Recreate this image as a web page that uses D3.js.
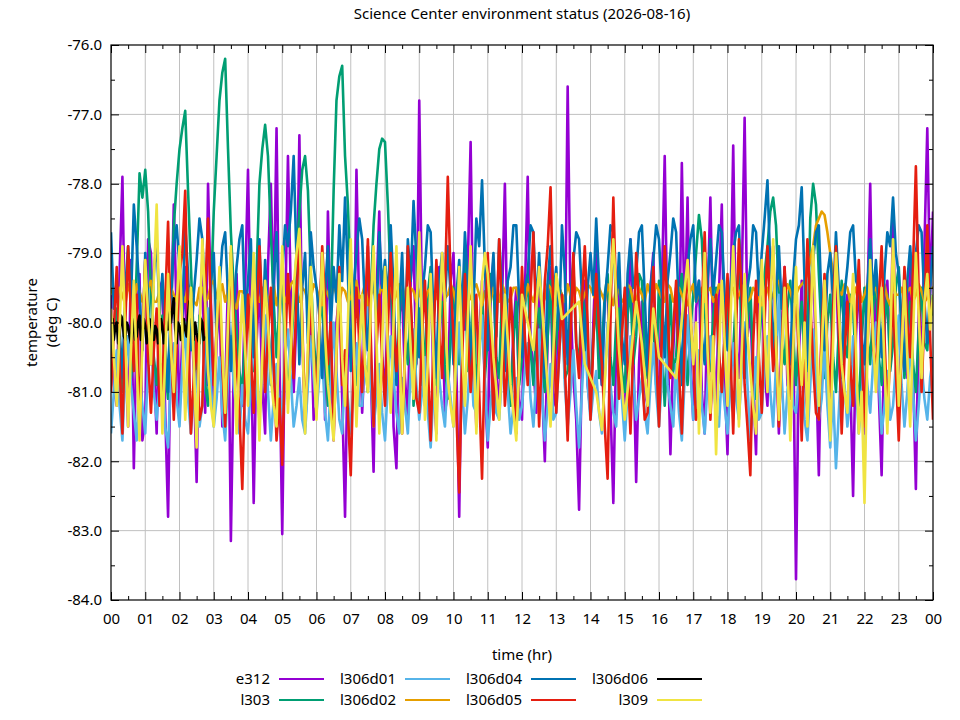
<!DOCTYPE html>
<html>
<head>
<meta charset="utf-8">
<script src="https://cdn.jsdelivr.net/npm/d3@7"></script>
<style>
body { margin: 0; background: #fff; }
text { font-family: "Noto Sans", sans-serif; font-size: 15px; fill: #000; }
</style>
</head>
<body>
<div class="chart"></div>
<script>
// === Data ===
// one reading every 5 minutes, 00:00 .. 24:00 (289 values, one row = 2 hours)
const e312 = [
  -79.6, -80.9, -81.2, -79.3, -77.9, -80.4, -81.5, -79.1, -82.1, -80.0, -79.3, -81.7, -81.4, -78.8, -79.0, -80.6, -81.6, -79.5, -79.4, -81.3, -82.8, -80.1, -78.3, -79.9,
  -81.3, -80.2, -79.2, -81.1, -79.8, -80.7, -82.3, -80.0, -79.1, -81.3, -78.0, -79.7, -81.4, -80.3, -79.6, -81.5, -81.0, -79.4, -83.15, -80.6, -79.3, -80.8, -81.2, -79.5,
  -77.8, -80.1, -82.6, -80.3, -79.4, -80.9, -81.6, -79.2, -78.0, -79.8, -77.2, -80.5, -83.05, -80.0, -77.6, -79.6, -81.0, -79.9, -77.3, -80.2, -81.5, -80.7, -79.8, -81.4,
  -81.2, -80.1, -79.0, -81.4, -78.4, -80.2, -81.7, -80.0, -79.6, -81.1, -82.8, -80.3, -79.5, -81.0, -77.8, -79.9, -81.3, -80.4, -78.9, -80.7, -82.15, -79.6, -78.4, -80.5,
  -81.0, -79.8, -79.2, -81.5, -82.1, -79.9, -79.6, -80.8, -81.4, -79.4, -78.9, -80.6, -76.8, -79.9, -81.2, -80.0, -79.3, -80.9, -81.6, -79.2, -79.7, -81.3, -81.0, -79.4,
  -79.0, -80.6, -82.8, -80.0, -80.1, -79.2, -77.4, -80.4, -81.5, -80.2, -79.4, -81.0, -81.8, -79.6, -79.1, -80.7, -81.3, -79.7, -78.0, -80.5, -81.2, -80.1, -79.5, -81.1,
  -81.4, -79.6, -77.9, -80.3, -80.6, -81.3, -79.4, -80.9, -82.0, -80.2, -79.2, -81.2, -81.0, -79.8, -79.6, -80.5, -76.6, -79.7, -80.8, -81.4, -82.7, -80.6, -79.4, -80.9,
  -81.3, -80.0, -78.9, -80.5, -80.9, -79.6, -79.5, -81.2, -82.6, -80.3, -79.3, -80.8, -81.5, -79.9, -78.8, -80.4, -82.3, -80.6, -79.7, -81.0, -81.2, -79.5, -79.0, -80.7,
  -81.0, -79.5, -77.6, -80.2, -81.9, -80.4, -79.5, -80.6, -77.7, -80.1, -78.2, -80.5, -81.4, -79.8, -79.4, -81.0, -81.6, -79.7, -78.2, -80.3, -81.3, -79.6, -78.3, -80.8,
  -81.9, -79.9, -77.45, -80.3, -80.8, -79.4, -77.05, -80.2, -79.8, -80.9, -81.9, -79.6, -79.3, -80.7, -81.2, -79.5, -78.9, -80.4, -81.6, -80.1, -79.2, -80.9, -81.0, -80.2,
  -83.7, -80.5, -79.4, -80.8, -81.3, -79.9, -79.0, -80.6, -82.2, -80.0, -79.8, -81.1, -81.5, -79.7, -79.1, -80.5, -81.2, -79.9, -79.6, -80.8, -82.5, -80.2, -79.3, -80.9,
  -81.6, -79.7, -78.0, -80.4, -79.5, -81.0, -82.2, -80.1, -79.4, -80.6, -78.5, -80.3, -81.4, -79.9, -79.6, -80.8, -79.0, -80.7, -82.4, -79.8, -80.5, -78.9, -77.2, -79.6,
  -78.4
];
const l303 = [
  -80.6, -80.1, -79.8, -80.5, -81.0, -80.4, -80.2, -80.8, -80.4, -79.2, -77.85, -78.2, -77.8, -78.4, -79.6, -80.5, -80.9, -80.2, -79.9, -80.7, -81.1, -79.9, -78.6, -78.0,
  -77.5, -77.2, -76.95, -78.1, -79.2, -80.3, -80.8, -79.9, -80.0, -80.9, -81.2, -79.6, -78.4, -77.6, -76.8, -76.4, -76.2, -77.5, -78.7, -79.5, -80.1, -80.7, -81.0, -80.2,
  -79.6, -80.3, -80.7, -79.3, -78.0, -77.5, -77.15, -77.6, -78.7, -79.7, -80.5, -79.8, -79.4, -80.3, -81.1, -80.4, -79.8, -79.0, -78.4, -77.8, -77.6, -78.1, -79.3, -80.2,
  -80.8, -80.1, -79.6, -80.5, -81.2, -79.8, -78.1, -76.8, -76.45, -76.3, -77.6, -78.3, -79.5, -80.4, -80.9, -80.2, -79.7, -80.6, -81.0, -79.6, -78.6, -78.0, -77.5, -77.35,
  -77.4, -78.3, -79.4, -80.2, -80.8, -80.0, -79.3, -80.1, -80.6, -79.7, -81.2, -80.5, -79.8, -80.9, -80.4, -79.6, -79.2, -80.3, -80.9, -80.0, -79.7, -80.6, -81.1, -80.2,
  -79.5, -80.1, -80.6, -79.8, -79.1, -80.7, -80.3, -79.5, -81.0, -80.4, -79.6, -80.8, -80.2, -79.3, -79.4, -80.5, -80.8, -79.6, -79.9, -80.7, -81.2, -80.3, -79.7, -80.9,
  -80.5, -79.8, -79.3, -80.4, -80.9, -80.1, -79.8, -80.6, -81.0, -80.2, -79.4, -80.7, -80.3, -79.5, -79.6, -80.8, -80.7, -79.6, -79.2, -80.3, -80.6, -79.5, -79.9, -80.6,
  -81.1, -80.2, -79.7, -80.8, -80.4, -79.6, -79.3, -80.5, -80.9, -80.0, -79.8, -80.7, -81.0, -79.9, -79.5, -80.6, -80.2, -79.3, -79.4, -80.4, -80.8, -79.7, -80.0, -80.9,
  -79.4, -80.3, -81.2, -80.4, -79.6, -80.7, -80.5, -79.7, -79.3, -80.2, -80.9, -80.1, -79.6, -79.0, -78.45, -78.8, -79.8, -80.4, -80.7, -79.9, -79.5, -80.5, -81.0, -80.2,
  -79.7, -80.5, -80.4, -79.6, -79.2, -80.1, -80.8, -80.0, -79.5, -80.6, -81.1, -80.3, -79.8, -79.3, -78.9, -78.4, -78.2, -78.6, -79.6, -80.3, -80.6, -79.8, -79.4, -80.2,
  -80.9, -80.2, -79.7, -80.6, -80.3, -78.5, -78.0, -78.3, -79.3, -80.2, -80.8, -80.0, -79.6, -80.5, -81.0, -80.1, -79.4, -80.3, -80.5, -79.6, -79.8, -80.7, -81.2, -80.3,
  -79.5, -80.2, -80.6, -79.8, -79.3, -80.5, -80.9, -80.0, -79.6, -80.7, -80.3, -79.5, -79.2, -80.1, -80.8, -80.2, -79.7, -80.6, -81.0, -80.1, -79.5, -80.3, -80.4, -79.6,
  -79.9
];
const l306d01 = [
  -81.6, -81.0, -80.4, -81.2, -81.7, -80.7, -80.2, -80.9, -81.3, -81.7, -80.8, -81.2, -81.6, -80.6, -80.1, -81.0, -81.4, -80.9, -80.6, -81.5, -81.8, -80.8, -80.3, -81.1,
  -81.5, -80.6, -80.0, -81.1, -81.6, -81.0, -80.7, -81.5, -81.2, -80.4, -79.8, -80.9, -81.5, -81.1, -80.5, -81.3, -81.7, -80.8, -80.2, -80.9, -81.3, -81.6, -80.9, -81.4,
  -81.6, -80.9, -80.3, -81.0, -81.4, -80.6, -79.9, -81.0, -81.7, -81.1, -80.6, -81.4, -81.2, -80.5, -80.1, -80.8, -81.5, -81.2, -80.8, -81.4, -81.6, -80.9, -80.2, -80.8,
  -81.3, -80.8, -80.5, -81.3, -81.7, -80.9, -80.0, -80.7, -81.4, -81.6, -80.7, -81.1, -81.6, -80.8, -80.3, -81.2, -81.2, -80.4, -79.7, -80.8, -81.5, -81.1, -80.6, -81.3,
  -81.7, -80.9, -80.2, -80.8, -81.3, -81.6, -80.8, -81.2, -81.6, -80.7, -80.1, -80.9, -81.4, -81.0, -80.5, -81.3, -81.8, -81.0, -80.3, -80.8, -81.2, -81.5, -80.7, -81.1,
  -81.5, -80.7, -80.0, -80.9, -81.6, -81.1, -80.4, -81.2, -81.3, -80.5, -79.9, -80.8, -81.7, -81.2, -80.6, -81.3, -81.4, -80.7, -80.2, -81.0, -81.6, -81.2, -80.8, -81.4,
  -81.2, -80.7, -80.3, -81.1, -81.5, -80.8, -80.1, -81.0, -81.7, -81.2, -80.6, -81.4, -81.3, -80.5, -79.8, -80.9, -81.5, -81.0, -80.4, -81.2, -81.8, -81.0, -80.2, -80.9,
  -81.4, -81.0, -80.7, -81.3, -81.6, -80.8, -80.0, -80.9, -81.3, -81.5, -80.5, -81.1, -81.7, -81.0, -80.2, -80.8, -81.4, -81.1, -80.8, -81.3, -81.6, -80.9, -80.3, -81.0,
  -81.5, -80.8, -80.1, -80.9, -81.2, -81.5, -80.6, -81.3, -81.7, -80.8, -79.9, -80.7, -81.4, -81.1, -80.4, -81.2, -81.6, -80.9, -80.2, -80.9, -81.3, -81.5, -80.7, -81.2,
  -81.6, -80.9, -80.3, -81.1, -81.4, -80.7, -80.0, -80.9, -81.7, -81.2, -80.5, -81.4, -81.3, -80.6, -80.2, -81.0, -81.5, -80.6, -79.6, -80.8, -81.6, -81.0, -80.4, -81.2,
  -81.3, -80.8, -80.6, -81.4, -81.7, -80.9, -80.1, -80.8, -81.4, -81.1, -80.3, -81.2, -81.8, -81.0, -82.1, -81.3, -80.5, -80.9, -81.5, -81.1, -80.2, -80.9, -81.6, -81.1,
  -80.4, -80.9, -81.3, -80.6, -80.0, -80.8, -81.6, -81.2, -80.7, -81.4, -81.2, -80.6, -79.9, -80.9, -81.5, -81.0, -80.3, -81.0, -81.7, -81.2, -80.6, -81.1, -81.4, -80.8,
  -80.5
];
const l306d02 = [
  -79.5, -79.65, -79.7, -79.5, -79.6, -79.75, -79.45, -79.6, -79.75, -79.45, -79.55, -79.7, -79.65, -79.5, -79.4, -79.7, -79.7, -79.55, -79.5, -79.65, -79.8, -79.5, -79.6, -79.7,
  -79.45, -79.6, -79.7, -79.45, -79.55, -79.7, -79.75, -79.5, -79.5, -79.7, -79.65, -79.45, -79.4, -79.65, -79.6, -79.45, -79.7, -79.55, -79.5, -79.7, -79.8, -79.55, -79.55, -79.7,
  -79.6, -79.75, -79.45, -79.6, -79.7, -79.5, -79.5, -79.65, -79.65, -79.45, -79.75, -79.55, -79.5, -79.7, -79.6, -79.45, -79.4, -79.6, -79.7, -79.5, -79.55, -79.7, -79.65, -79.45,
  -79.5, -79.65, -79.75, -79.5, -79.6, -79.7, -79.45, -79.6, -79.7, -79.5, -79.55, -79.7, -79.65, -79.5, -79.4, -79.65, -79.6, -79.45, -79.75, -79.6, -79.5, -79.7, -79.6, -79.45,
  -79.7, -79.55, -79.5, -79.7, -79.6, -79.45, -79.45, -79.65, -79.75, -79.5, -79.55, -79.7, -79.6, -79.45, -79.7, -79.55, -79.5, -79.7, -79.65, -79.5, -79.4, -79.65, -79.6, -79.45,
  -79.55, -79.75, -79.7, -79.5, -79.5, -79.7, -79.65, -79.5, -79.45, -79.6, -79.75, -79.55, -79.6, -79.7, -79.5, -79.65, -79.7, -79.45, -79.55, -79.7, -79.65, -79.5, -79.5, -79.7,
  -79.6, -79.7, -79.45, -79.6, -79.7, -79.5, -79.55, -79.75, -79.65, -79.45, -79.5, -79.7, -79.75, -79.5, -79.6, -79.7, -79.45, -79.6, -79.7, -79.5, -79.55, -79.7, -79.6, -79.45,
  -79.5, -79.6, -79.7, -79.5, -79.6, -79.7, -79.45, -79.6, -79.75, -79.5, -79.55, -79.7, -79.65, -79.45, -79.5, -79.7, -79.7, -79.5, -79.6, -79.7, -79.45, -79.6, -79.65, -79.45,
  -79.55, -79.65, -79.7, -79.45, -79.5, -79.7, -79.65, -79.5, -79.6, -79.7, -79.75, -79.55, -79.45, -79.7, -79.6, -79.5, -79.7, -79.55, -79.5, -79.7, -79.65, -79.45, -79.55, -79.65,
  -79.7, -79.55, -79.5, -79.7, -79.6, -79.5, -79.45, -79.7, -79.65, -79.5, -79.55, -79.7, -79.75, -79.55, -79.5, -79.7, -79.6, -79.45, -79.4, -79.6, -79.65, -79.45, -79.55, -79.7,
  -79.6, -79.5, -79.45, -79.4, -79.3, -79.1, -78.9, -78.6, -78.5, -78.4, -78.45, -78.7, -79.0, -79.3, -79.4, -79.55, -79.6, -79.45, -79.5, -79.7, -79.65, -79.5, -79.45, -79.7,
  -79.6, -79.45, -79.7, -79.55, -79.5, -79.7, -79.55, -79.45, -79.65, -79.75, -79.45, -79.6, -79.6, -79.5, -79.7, -79.55, -79.5, -79.7, -79.6, -79.45, -79.55, -79.7, -79.65, -79.5,
  -79.5
];
const l306d04 = [
  -78.7, -79.8, -79.4, -80.1, -80.8, -79.5, -78.9, -79.7, -78.3, -78.9, -79.6, -80.4, -79.0, -79.6, -80.6, -79.3, -78.8, -79.9, -79.3, -80.2, -81.0, -79.6, -78.9, -78.6,
  -79.2, -79.9, -78.6, -79.3, -80.4, -79.6, -79.1, -78.5, -78.8, -79.7, -80.9, -79.4, -79.0, -80.2, -79.5, -78.9, -78.7, -79.6, -80.7, -79.8, -79.2, -78.8, -78.6, -80.0,
  -79.4, -78.8, -80.5, -79.6, -78.8, -80.2, -79.1, -79.9, -80.9, -79.4, -78.7, -80.0, -79.3, -78.6, -78.9, -78.4, -77.6, -79.1, -80.6, -79.5, -79.0, -80.3, -78.7, -79.2,
  -79.5, -79.9, -80.8, -79.6, -78.9, -80.1, -79.2, -79.7, -78.6, -79.4, -78.2, -79.3, -80.7, -79.5, -79.0, -78.5, -78.8, -79.8, -80.4, -79.6, -79.3, -80.0, -78.7, -79.5,
  -79.1, -79.7, -78.6, -79.5, -80.9, -79.8, -79.0, -80.3, -78.8, -79.4, -78.25, -79.1, -80.5, -79.6, -79.2, -78.6, -78.7, -79.9, -80.8, -79.4, -79.0, -79.7, -78.9, -79.6,
  -80.6, -79.6, -79.1, -79.9, -78.7, -79.4, -80.9, -79.8, -78.5, -78.9, -77.95, -79.2, -80.4, -79.6, -79.0, -80.2, -78.8, -79.5, -80.7, -79.4, -79.2, -78.6, -78.6, -79.7,
  -80.5, -79.5, -79.3, -78.6, -78.7, -79.8, -79.0, -79.9, -80.8, -79.4, -78.9, -79.6, -79.2, -80.1, -78.6, -79.3, -80.6, -79.7, -79.1, -78.7, -78.8, -79.6, -80.4, -79.5,
  -79.0, -79.6, -78.5, -79.4, -80.9, -79.7, -79.2, -78.6, -78.7, -79.8, -79.0, -80.2, -80.6, -79.3, -78.8, -79.5, -79.3, -78.7, -78.6, -79.6, -80.7, -79.5, -79.1, -78.6,
  -78.8, -79.6, -80.5, -79.4, -79.0, -78.5, -78.7, -79.9, -80.9, -79.5, -79.2, -78.8, -78.6, -79.7, -79.4, -80.2, -80.6, -79.4, -78.8, -79.6, -79.1, -78.6, -78.7, -79.6,
  -80.4, -79.5, -79.0, -78.7, -78.6, -79.7, -80.8, -79.5, -79.2, -78.6, -78.7, -79.6, -79.0, -78.5, -77.95, -79.2, -80.5, -79.6, -78.9, -79.8, -79.3, -80.1, -80.6, -79.4,
  -78.8, -78.6, -78.05, -79.4, -80.7, -79.6, -79.1, -78.7, -78.6, -79.8, -80.4, -79.3, -79.0, -79.7, -78.7, -79.5, -80.8, -79.6, -79.2, -78.7, -78.6, -79.4, -79.5, -80.2,
  -80.6, -79.5, -78.8, -79.6, -79.1, -79.8, -80.5, -79.3, -78.7, -78.9, -78.2, -79.0, -79.3, -80.1, -80.7, -79.4, -78.9, -79.6, -79.0, -78.6, -78.7, -79.7, -80.3, -79.5,
  -78.9
];
const l306d05 = [
  -81.0, -80.1, -79.2, -80.6, -81.6, -80.0, -78.9, -79.9, -80.7, -79.6, -81.5, -80.2, -79.1, -80.5, -81.3, -80.4, -79.8, -81.2, -80.9, -79.7, -78.55, -80.2, -81.4, -80.3,
  -79.3, -79.0, -78.1, -80.0, -81.6, -80.8, -80.2, -81.4, -81.2, -79.6, -78.5, -79.8, -80.9, -80.1, -79.4, -80.6, -81.5, -80.3, -79.0, -79.9, -80.6, -81.3, -82.4, -80.8,
  -79.6, -80.5, -81.3, -80.0, -78.9, -79.8, -81.0, -80.2, -79.5, -80.6, -81.7, -81.1, -82.05, -80.4, -79.3, -80.1, -80.8, -79.6, -78.8, -80.0, -81.4, -80.5, -79.7, -80.4,
  -81.1, -80.0, -78.9, -79.7, -80.6, -80.0, -81.6, -80.5, -79.2, -80.9, -80.4, -81.3, -82.2, -80.6, -79.5, -80.3, -81.0, -79.9, -78.8, -80.2, -81.5, -80.4, -79.6, -80.5,
  -81.2, -80.1, -79.0, -79.9, -80.7, -80.1, -81.6, -80.4, -78.9, -79.7, -80.5, -81.1, -81.3, -80.2, -79.4, -80.6, -81.7, -80.3, -79.1, -80.0, -80.8, -79.5, -77.9, -79.4,
  -80.2, -81.3, -82.45, -80.6, -79.3, -80.2, -81.0, -80.3, -79.6, -81.0, -82.25, -80.4, -79.0, -80.1, -81.4, -80.2, -78.8, -79.9, -81.2, -80.6, -79.5, -80.4, -81.6, -80.5,
  -79.2, -80.2, -80.9, -79.6, -78.7, -80.1, -81.5, -80.4, -79.4, -78.9, -78.05, -79.8, -81.3, -80.5, -79.6, -80.6, -81.7, -80.2, -79.0, -80.3, -80.8, -79.7, -78.9, -80.0,
  -81.4, -80.3, -79.3, -80.1, -80.6, -81.5, -82.25, -80.0, -78.2, -79.7, -81.1, -80.2, -79.5, -80.6, -81.6, -80.3, -79.0, -79.8, -80.7, -81.4, -81.3, -80.1, -79.2, -80.4,
  -81.5, -80.2, -78.9, -79.8, -80.8, -80.1, -79.4, -80.7, -81.6, -80.3, -79.1, -79.9, -80.5, -81.4, -81.2, -79.8, -78.7, -80.0, -81.4, -80.5, -79.6, -80.4, -81.0, -80.2,
  -79.3, -80.4, -81.6, -80.1, -78.8, -79.6, -80.9, -81.5, -82.2, -80.3, -79.4, -80.5, -81.3, -80.0, -78.9, -79.8, -80.7, -80.2, -81.5, -80.4, -79.2, -80.0, -81.1, -80.3,
  -79.5, -80.5, -81.7, -80.2, -78.8, -79.7, -80.6, -81.3, -81.4, -80.1, -79.3, -80.4, -81.0, -79.8, -78.9, -80.1, -81.6, -80.5, -79.7, -80.6, -81.2, -80.0, -79.1, -80.3,
  -81.5, -80.4, -79.4, -80.3, -80.8, -79.7, -78.9, -80.2, -81.3, -80.5, -79.6, -80.7, -81.7, -80.3, -79.2, -80.0, -80.5, -79.2, -77.75, -79.6, -81.0, -79.9, -78.6, -80.2,
  -81.4
];
// l306d06 only reported for the first hours, every 2.5 minutes
const l306d06 = [
  -80.1, -79.95, -80.25, -80.05, -80.0, -80.3, -80.2, -79.9, -79.95, -80.2, -80.25, -80.0, -80.05, -80.2, -80.3, -79.95, -80.1, -80.25, -80.2, -80.0, -79.9, -80.25,
  -80.15, -79.95, -80.05, -80.3, -80.2, -79.95, -80.0, -80.2, -80.25, -80.05, -80.1, -80.3, -80.2, -79.95, -80.05, -80.3, -80.25, -80.0, -80.1, -79.85, -80.0, -79.8,
  -79.65, -80.1, -80.3, -80.0, -80.05, -80.25, -80.2, -79.95, -80.1, -80.2, -79.9, -79.7, -79.65, -80.05, -80.25, -80.0, -80.15, -80.25, -80.3, -79.95, -80.0, -80.25,
  -80.2
];
// l309 has missing readings (null) between 11:00 and 17:00
const l309 = [
  -79.8, -80.5, -81.2, -80.1, -78.9, -80.2, -81.5, -80.4, -79.4, -80.6, -81.7, -80.3, -79.1, -79.9, -80.6, -79.4, -78.3, -80.0, -81.6, -80.5, -79.3, -80.4, -81.0, -79.8,
  -78.9, -80.1, -81.4, -80.3, -79.5, -80.6, -81.8, -80.2, -78.8, -79.7, -80.7, -81.2, -81.5, -80.1, -79.2, -80.4, -81.3, -80.0, -78.9, -80.3, -81.6, -80.5, -79.6, -80.4,
  -81.2, -80.0, -79.0, -80.3, -81.7, -80.5, -79.4, -80.0, -80.8, -81.2, -81.5, -80.0, -78.9, -80.2, -81.3, -80.4, -79.5, -79.0, -78.65, -80.1, -81.6, -80.3, -79.2, -80.5,
  -81.4, -80.1, -79.0, -80.2, -80.9, -81.3, -81.7, -80.4, -79.3, -80.5, -81.2, -80.0, -78.8, -80.3, -81.5, -80.4, -79.6, -80.6, -81.0, -79.8, -78.9, -80.2, -81.6, -80.3,
  -79.2, -80.4, -81.3, -80.0, -78.9, -80.3, -81.6, -80.5, -79.5, -80.4, -81.1, -79.9, -78.7, -80.0, -81.4, -80.6, -79.3, -80.5, -81.7, -80.2, -79.0, -79.7, -80.8, -81.2,
  -81.5, -80.3, -79.2, -80.4, -81.2, -80.0, -78.9, -80.2, -81.6, -80.5, -79.4, -79.0, -79.3, null, -80.5, null, -81.4, null, -79.6, null, -80.9, null, -81.7, null,
  -79.6, null, null, null, -80.4, null, -79.2, null, null, null, -81.5, null, -79.3, null, -79.95, null, null, null, null, null, -79.7, null, -80.6, null,
  null, null, -81.0, null, -81.55, null, null, null, -78.8, null, -80.4, null, -81.4, null, null, null, -79.7, null, -80.3, null, -81.2, null, -79.8, null,
  -80.5, null, null, null, null, null, -80.8, null, null, null, -79.1, null, -80.6, -80.0, -81.6, -80.3, -79.0, -80.4, -81.3, -80.2, -81.9, -80.5, -79.4, -80.3,
  -81.2, -80.0, -78.9, -80.1, -81.5, -80.4, -79.3, -80.2, -80.7, -81.2, -81.6, -80.3, -79.1, -80.1, -81.0, -79.7, -78.8, -80.3, -81.4, -80.5, -79.5, -80.6, -81.7, -80.4,
  -79.2, -80.3, -80.9, -80.0, -81.5, -80.2, -78.9, -80.1, -81.2, -80.4, -79.4, -80.5, -81.7, -80.3, -79.0, -79.8, -80.6, -81.0, -81.3, -80.1, -79.3, -80.4, -81.6, -81.0,
  -82.6, -80.5, -79.1, -80.2, -81.0, -80.1, -79.5, -80.6, -81.6, -80.3, -78.8, -80.0, -81.2, -80.4, -79.4, -80.5, -81.5, -80.2, -79.0, -79.9, -80.8, -79.7, -79.3, -80.1,
  -79.6
];

// sampling interval of each series, in hours
const series = [
  {name: "e312",    values: e312,    step: 1 / 12},
  {name: "l303",    values: l303,    step: 1 / 12},
  {name: "l306d01", values: l306d01, step: 1 / 12},
  {name: "l306d02", values: l306d02, step: 1 / 12},
  {name: "l306d04", values: l306d04, step: 1 / 12},
  {name: "l306d05", values: l306d05, step: 1 / 12},
  {name: "l306d06", values: l306d06, step: 1 / 24},
  {name: "l309",    values: l309,    step: 1 / 12}
];

const hourTicks = [0, 1, 2, 3, 4, 5, 6, 7, 8, 9, 10, 11, 12, 13, 14, 15, 16, 17, 18, 19, 20, 21, 22, 23, 24];
const hourLabels = ["00", "01", "02", "03", "04", "05", "06", "07", "08", "09", "10", "11",
                    "12", "13", "14", "15", "16", "17", "18", "19", "20", "21", "22", "23", "00"];
const tempTicks = [-84, -83, -82, -81, -80, -79, -78, -77, -76];

// line colours (gnuplot palette)
const colors = {
  e312: "#9400d3", l303: "#009e73", l306d01: "#56b4e9", l306d02: "#e69f00",
  l306d04: "#0072b2", l306d05: "#e51e10", l306d06: "#000000", l309: "#f0e442"
};

// === Margin Convention ===
const margin = {top: 45, right: 27, bottom: 120, left: 111};
const width = 960 - margin.left - margin.right,
      height = 720 - margin.top - margin.bottom;

const root = d3.select(".chart").append("svg")
    .attr("width", 960)
    .attr("height", 720);

const svg = root.append("g")
    .attr("transform", `translate(${margin.left},${margin.top})`);

// === Scales ===
const x = d3.scaleLinear().domain([0, 24]).range([0, width]);
const y = d3.scaleLinear().domain([-84, -76]).range([height, 0]);

// === Grid ===
svg.append("g").selectAll("line")
    .data(hourTicks.slice(1, -1))
    .join("line")
    .attr("x1", d => x(d)).attr("x2", d => x(d))
    .attr("y1", 0).attr("y2", height)
    .attr("stroke", "#c0c0c0").attr("stroke-width", 1);

svg.append("g").selectAll("line")
    .data(tempTicks.slice(1, -1))
    .join("line")
    .attr("y1", d => y(d)).attr("y2", d => y(d))
    .attr("x1", 0).attr("x2", width)
    .attr("stroke", "#c0c0c0").attr("stroke-width", 1);

// === Lines ===
svg.append("clipPath").attr("id", "plot-clip")
    .append("rect").attr("width", width).attr("height", height);

const line = d3.line()
    .x(d => x(d[0]))
    .y(d => y(d[1]));

svg.append("g")
    .attr("clip-path", "url(#plot-clip)")
    .selectAll("path")
    .data(series)
    .join("path")
    .attr("fill", "none")
    .attr("stroke", d => colors[d.name])
    .attr("stroke-width", 2.6)
    .attr("stroke-linejoin", "round")
    // skip missing readings so the line joins the neighbours
    .attr("d", d => line(d.values.map((v, i) => [i * d.step, v]).filter(p => p[1] !== null)));

// === Axes ===
const halfHours = hourTicks.slice(0, -1).map(h => h + 0.5);
const halfDegrees = tempTicks.slice(0, -1).map(t => t + 0.5);

function tidy(g) {
    g.select(".domain").remove();
    g.selectAll(".tick line").attr("stroke", "#000");
}

svg.append("g")
    .attr("transform", `translate(0,${height})`)
    .call(d3.axisBottom(x).tickValues(hourTicks).tickFormat((d, i) => hourLabels[i])
        .tickSizeInner(-8).tickSizeOuter(0).tickPadding(13))
    .call(tidy);
svg.append("g")
    .attr("transform", `translate(0,${height})`)
    .call(d3.axisBottom(x).tickValues(halfHours).tickFormat("").tickSizeInner(-4).tickSizeOuter(0))
    .call(tidy);
svg.append("g")
    .call(d3.axisTop(x).tickValues(hourTicks).tickFormat("").tickSizeInner(-8).tickSizeOuter(0))
    .call(tidy);
svg.append("g")
    .call(d3.axisTop(x).tickValues(halfHours).tickFormat("").tickSizeInner(-4).tickSizeOuter(0))
    .call(tidy);

svg.append("g")
    .call(d3.axisLeft(y).tickValues(tempTicks).tickFormat(d => d.toFixed(1))
        .tickSizeInner(-8).tickSizeOuter(0).tickPadding(9))
    .call(tidy);
svg.append("g")
    .call(d3.axisLeft(y).tickValues(halfDegrees).tickFormat("").tickSizeInner(-4).tickSizeOuter(0))
    .call(tidy);
svg.append("g")
    .attr("transform", `translate(${width},0)`)
    .call(d3.axisRight(y).tickValues(tempTicks).tickFormat("").tickSizeInner(-8).tickSizeOuter(0))
    .call(tidy);
svg.append("g")
    .attr("transform", `translate(${width},0)`)
    .call(d3.axisRight(y).tickValues(halfDegrees).tickFormat("").tickSizeInner(-4).tickSizeOuter(0))
    .call(tidy);

// border
svg.append("rect")
    .attr("width", width).attr("height", height)
    .attr("fill", "none").attr("stroke", "#000").attr("stroke-width", 1.2);

// === Titles ===
root.append("text")
    .attr("x", margin.left + width / 2).attr("y", 14).attr("dy", "0.35em")
    .attr("text-anchor", "middle")
    .text("Science Center environment status (2026-08-16)");

root.append("text")
    .attr("x", margin.left + width / 2).attr("y", 655).attr("dy", "0.35em")
    .attr("text-anchor", "middle")
    .text("time (hr)");

root.append("text")
    .attr("transform", `translate(32,${margin.top + height / 2}) rotate(-90)`)
    .attr("dy", "0.35em").attr("text-anchor", "middle")
    .text("temperature");
root.append("text")
    .attr("transform", `translate(52,${margin.top + height / 2}) rotate(-90)`)
    .attr("dy", "0.35em").attr("text-anchor", "middle")
    .text("(deg C)");

// === Legend ===
// entries fill two rows, column by column
const legendX = 279, legendY = 679, colStep = 126, rowStep = 21, sampleLen = 45;

const legend = root.append("g").selectAll("g")
    .data(series)
    .join("g")
    .attr("transform", (d, i) =>
        `translate(${legendX + Math.floor(i / 2) * colStep},${legendY + (i % 2) * rowStep})`);

legend.append("line")
    .attr("x1", 0).attr("x2", sampleLen)
    .attr("stroke", d => colors[d.name])
    .attr("stroke-width", 2);

legend.append("text")
    .attr("x", -9).attr("dy", "0.35em")
    .attr("text-anchor", "end")
    .text(d => d.name);
</script>
</body>
</html>
